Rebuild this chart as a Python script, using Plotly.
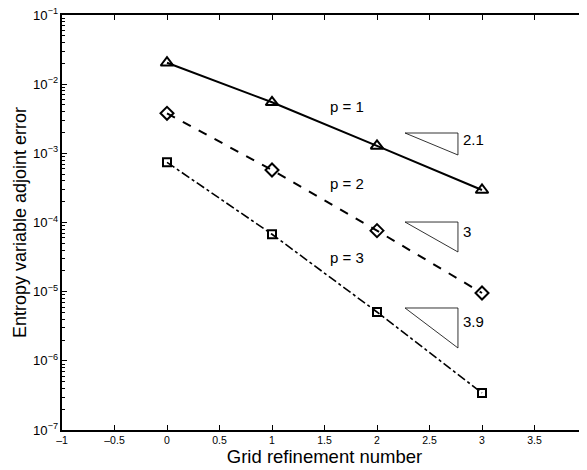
import math
import plotly.graph_objects as go

# ---- data ----
grid_levels = [0, 1, 2, 3]
err_p1 = [2.04e-2, 5.47e-3, 1.28e-3, 2.95e-4]
err_p2 = [3.79e-3, 5.74e-4, 7.62e-5, 9.57e-6]
err_p3 = [7.41e-4, 6.76e-5, 5.08e-6, 3.43e-7]

series_labels = ["p = 1", "p = 2", "p = 3"]
series_label_x = [1.714, 1.714, 1.714]
series_label_y = [10**-2.316, 10**-3.429, 10**-4.499]

# slope triangles (x left, x right, y top, y bottom) and rate labels
tri_x0 = [2.267, 2.267, 2.267]
tri_x1 = [2.771, 2.771, 2.771]
tri_ytop = [10**-2.706, 10**-3.993, 10**-5.236]
tri_ybot = [10**-3.024, 10**-4.426, 10**-5.814]
rate_labels = ["2.1", "3", "3.9"]
rate_label_y = [10**-2.793, 10**-4.137, 10**-5.438]

x_ticks = [-1, -0.5, 0, 0.5, 1, 1.5, 2, 2.5, 3, 3.5, 4]

font_family = "Liberation Sans, Arial, Helvetica, sans-serif"

fig = go.Figure()

styles = [
    (err_p1, "solid", 2, "triangle-up-open", 11),
    (err_p2, "dash", 2, "diamond-open", 10),
    (err_p3, "dashdot", 1.6, "square-open", 8),
]
for vals, dash, lw, sym, ms in styles:
    fig.add_trace(go.Scatter(
        x=grid_levels, y=vals, mode="lines+markers",
        line=dict(color="black", width=lw, dash=dash),
        marker=dict(symbol=sym, size=ms, color="black",
                    line=dict(color="black", width=2)),
        showlegend=False, hoverinfo="skip"))

for i in range(3):
    fig.add_trace(go.Scatter(
        x=[tri_x0[i], tri_x1[i], tri_x1[i], tri_x0[i]],
        y=[tri_ytop[i], tri_ytop[i], tri_ybot[i], tri_ytop[i]],
        mode="lines", line=dict(color="black", width=0.8),
        showlegend=False, hoverinfo="skip"))

for i in range(3):
    fig.add_annotation(x=series_label_x[i], y=math.log10(series_label_y[i]),
                       xref="x", yref="y", text=series_labels[i],
                       showarrow=False,
                       font=dict(size=15, color="black", family=font_family))
    fig.add_annotation(x=tri_x1[i], y=math.log10(rate_label_y[i]),
                       xref="x", yref="y",
                       text=rate_labels[i], showarrow=False,
                       xanchor="left", xshift=3,
                       font=dict(size=15, color="black", family=font_family))

# invisible trace for right-side tick axis
fig.add_trace(go.Scatter(x=[0], y=[1e-3], yaxis="y2", mode="markers",
                         marker=dict(opacity=0), showlegend=False,
                         hoverinfo="skip"))

# the page body has an 8px default margin; size the figure to compensate
fig.update_layout(
    width=579, height=462,
    margin=dict(l=54, r=0, t=7, b=40),
    paper_bgcolor="white", plot_bgcolor="white",
    font=dict(family=font_family, color="black"),
    xaxis=dict(
        range=[-1, 4], tickvals=x_ticks,
        ticktext=[("\u2013" + str(abs(v)) if v < 0 else str(v)) for v in x_ticks],
        ticks="inside", ticklen=5, tickcolor="black",
        showline=True, linecolor="black", linewidth=1.5, mirror="ticks",
        showgrid=False, zeroline=False, automargin=False,
        ticklabeloverflow="allow",
        tickfont=dict(size=10.5, color="black"),
        title=dict(text="Grid refinement number",
                   font=dict(size=18.5, color="black"), standoff=2),
    ),
    yaxis=dict(
        type="log", range=[-7, -1], dtick=1,
        exponentformat="power",
        ticks="inside", ticklen=5, tickcolor="black",
        minor=dict(ticks="inside", ticklen=3, dtick="D1", tickcolor="black",
                   showgrid=False),
        showline=True, linecolor="black", linewidth=1.5,
        showgrid=False, zeroline=False, automargin=False,
        ticklabeloverflow="allow",
        tickfont=dict(size=10.5, color="black"),
        title=dict(text="Entropy variable adjoint error",
                   font=dict(size=18, color="black"), standoff=2),
    ),
    yaxis2=dict(
        type="log", range=[-7, -1], dtick=1, overlaying="y", side="right",
        ticks="inside", ticklen=5, tickcolor="black",
        minor=dict(ticks="inside", ticklen=3, dtick="D1", tickcolor="black",
                   showgrid=False),
        showline=False, showgrid=False, zeroline=False, automargin=False,
        showticklabels=False,
    ),
)

fig.write_html("out.html")
